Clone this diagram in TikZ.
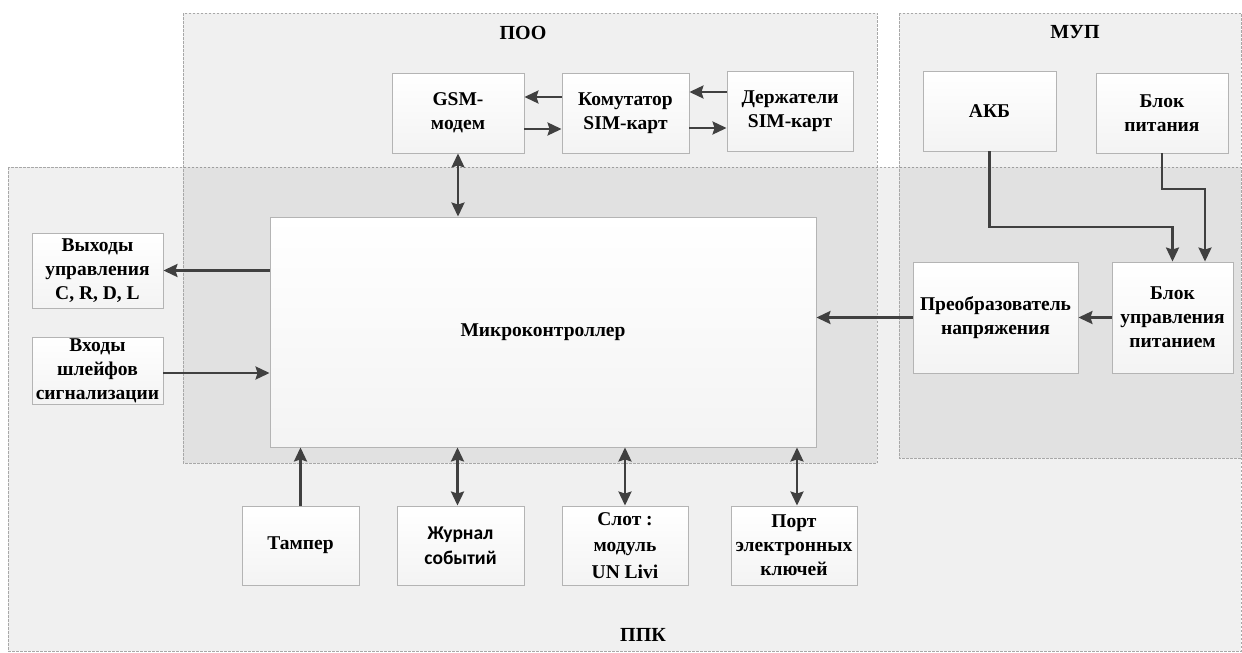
\documentclass[tikz,border=0pt]{standalone}
\usepackage{fontspec}
\setmainfont{Liberation Serif}
\newfontfamily\calibri{Carlito}
\usetikzlibrary{arrows.meta,shadows,calc}
\definecolor{arrcol}{HTML}{404040}
\definecolor{regline}{HTML}{A8A8A8}
\definecolor{boxline}{HTML}{B4B4B4}
\begin{document}
\begin{tikzpicture}[x=1pt,y=-1pt,
  region/.style={draw=regline,line width=0.8pt,dash pattern=on 2.5pt off 1.5pt,fill=black,fill opacity=0.058},
  regtitle/.style={font=\fontsize{20}{24}\selectfont\bfseries},
  blk/.style={draw=boxline,line width=0.9pt,top color=white,bottom color=gray!9,
    drop shadow={shadow xshift=1.2pt,shadow yshift=-1.2pt,opacity=0.25},
    align=center,inner sep=0pt,font=\fontsize{19.5}{24}\selectfont\bfseries},
  tip/.tip={Stealth[length=14pt,width=13pt,inset=2pt]},
  arr/.style={draw=arrcol,line width=2.4pt,-tip},
  arrb/.style={draw=arrcol,line width=2.4pt,tip-tip}]
\useasboundingbox (0,0) rectangle (1242,653);
\fill[white] (0,0) rectangle (1242,653);
% regions
\path[region] (8,167) rectangle (1241,651);
\path[region] (183,13) rectangle (877,463);
\path[region] (899,13) rectangle (1241,458);
\node[regtitle] (poo) at (523,33) {ПОО};
\node[regtitle] (mup) at (1075,32) {МУП};
\node[regtitle] (ppk) at (643,635) {ППК};
% boxes
\node[blk,minimum width=132,minimum height=80] (gsm) at (458,113) {GSM-\\модем};
\node[blk,minimum width=127,minimum height=80] (kom) at (625.5,113) {Комутатор\\SIM-карт};
\node[blk,minimum width=126,minimum height=80] (der) at (790,111) {Держатели\\SIM-карт};
\node[blk,minimum width=133,minimum height=80] (akb) at (989.5,111) {АКБ};
\node[blk,minimum width=132,minimum height=80] (bp) at (1162,113) {Блок\\питания};
\node[blk,minimum width=165,minimum height=111] (pn) at (995.5,317.5) {Преобразователь\\напряжения};
\node[blk,minimum width=121,minimum height=111] (bup) at (1172.5,317.5) {Блок\\управления\\питанием};
\node[blk,minimum width=546,minimum height=230] (mcu) at (543,332) {Микроконтроллер};
\node[blk,minimum width=131,minimum height=75] (out) at (97.5,270.5) {Выходы\\управления\\C, R, D, L};
\node[blk,minimum width=131,minimum height=67] (inp) at (97.5,370.5) {Входы\\шлейфов\\сигнализации};
\node[blk,minimum width=117,minimum height=79] (tamp) at (300.5,545.5) {Тампер};
\node[blk,minimum width=127,minimum height=79,font=\fontsize{19.5}{25}\selectfont\calibri\bfseries] (jur) at (460.5,545.5) {Журнал\\событий};
\node[blk,minimum width=126,minimum height=79,font=\fontsize{19.5}{26.5}\selectfont\bfseries] (slot) at (625,545.5) {Слот :\\модуль\\UN Livi};
\node[blk,minimum width=126,minimum height=79] (port) at (794,545.5) {Порт\\электронных\\ключей};
% connectors
\draw[arr] ([yshift=16]kom.west) -- ([yshift=16]gsm.east);
\draw[arr] ([yshift=-16]gsm.east) -- ([yshift=-16]kom.west);
\draw[arr] ([yshift=19]der.west) -- (kom.east |- 0,92);
\draw[arr] ([yshift=-15]kom.east) -- (der.west |- 0,128);
\draw[arrb] (gsm.south) -- (gsm.south |- mcu.north);
\draw[arr] (out.east -| mcu.west) -- (out.east);
\draw[arr] ([yshift=-2.5]inp.east) -- ([yshift=-2.5]inp.east -| mcu.west);
\draw[arr] (pn.west) -- (pn.west -| mcu.east);
\draw[arr] (bup.west) -- (pn.east);
\draw[arr] (akb.south) -- (akb.south |- 0,227) -| (bup.north);
\draw[arr] (bp.south) -- (bp.south |- 0,189) -| ([xshift=32.5]bup.north);
\draw[arr] (tamp.north) -- (tamp.north |- mcu.south);
\draw[arrb] ([xshift=-3]jur.north) -- ([xshift=-3]jur.north |- mcu.south);
\draw[arrb] (slot.north) -- (slot.north |- mcu.south);
\draw[arrb] ([xshift=3]port.north) -- ([xshift=3]port.north |- mcu.south);
\end{tikzpicture}
\end{document}
